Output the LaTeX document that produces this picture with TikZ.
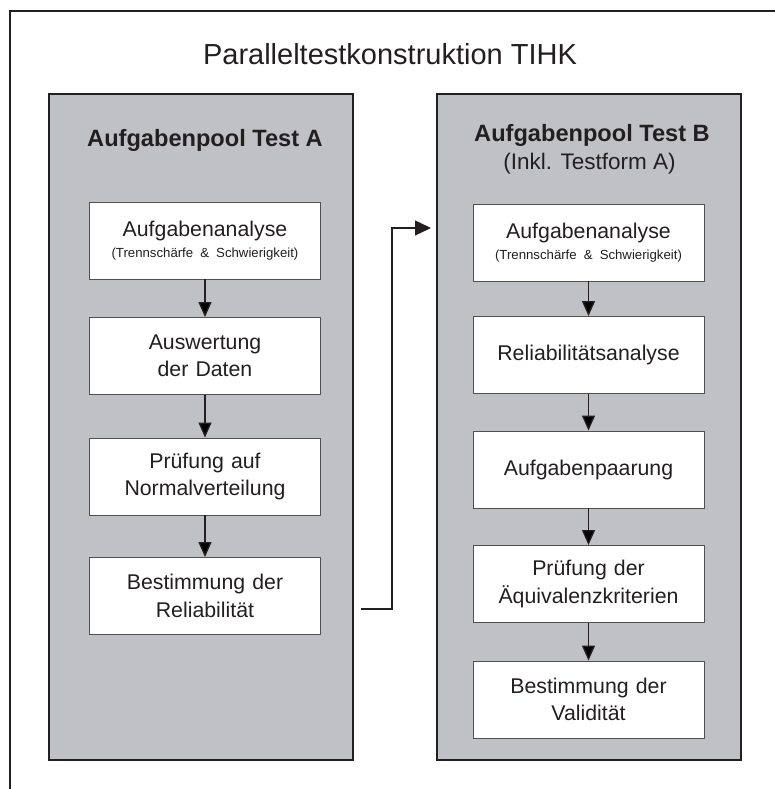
\documentclass[tikz,border=0pt]{standalone}
\usepackage{fontspec}
\setmainfont{Liberation Sans}
\usepackage{tikz}
\usetikzlibrary{arrows.meta, shapes}
\definecolor{poolgray}{RGB}{192,193,196}
\definecolor{ink}{RGB}{35,31,32}
\definecolor{boxline}{RGB}{80,80,80}
\newcommand{\detailfont}{\fontsize{13.2}{16}\selectfont}
\tikzstyle{arrow} = [-{Triangle[length=15pt,width=13pt]}, line width=1.3pt, draw=ink]
\tikzstyle{pool} = [draw=ink, fill=poolgray, line width=1.6pt, minimum width=304pt, minimum height=666pt, inner sep=0]
\tikzstyle{task} = [draw=boxline, fill=white, line width=0.9pt, text width=225pt, align=center, minimum width=231pt, minimum height=77pt, inner sep=0, font=\fontsize{21.3}{27.5}\selectfont, text=ink]
\tikzstyle{pooltitle} = [font=\fontsize{23.6}{28}\selectfont\bfseries, text=ink, anchor=base]
\begin{document}
\begin{tikzpicture}[x=1pt, y=1pt, auto, node distance=118pt]
        \useasboundingbox (0,0) rectangle (775,789);
        \clip (0,0) rectangle (775,789);
        \draw [line width=2pt, draw=ink] (10,-10) -- (10,778) -- (790,778);
        \node [anchor=base, font=\fontsize{29}{34}\selectfont, text=ink] (title) at (390,724) {Paralleltestkonstruktion TIHK};

        \node [pool] (poolA) at (201,362) {};
        \node [pool] (poolB) at (589,362) {};
        \node [pooltitle] (poolTitleA) at (205,642) {Aufgabenpool Test A};
        \node [pooltitle] (poolTitleB) at (592,647) {Aufgabenpool Test B};
        \node [anchor=base, font=\fontsize{22.5}{27}\selectfont, text=ink] (poolNoteB) at (589.5,619) {(Inkl. Testform A)};

        \node [task] (analyseA) at (205,548.5) {Aufgabenanalyse\\[-6pt]{\detailfont(Trennschärfe \& Schwierigkeit)}};
        \node [task, below of=analyseA, node distance=115.5pt] (auswertungA) {Auswertung\\der Daten};
        \node [task, below of=auswertungA, node distance=120.5pt] (normalA) {Prüfung auf\\Normalverteilung};
        \node [task, below of=normalA, node distance=119.5pt] (reliabA) {Bestimmung der\\Reliabilität};

        \node [task] (analyseB) at (588.5,546.5) {Aufgabenanalyse\\[-6pt]{\detailfont(Trennschärfe \& Schwierigkeit)}};
        \node [task, below of=analyseB, node distance=112.5pt] (reliabB) {Reliabilitätsanalyse};
        \node [task, below of=reliabB, node distance=114.5pt] (paarungB) {Aufgabenpaarung};
        \node [task, below of=paarungB, node distance=114.5pt] (aequivB) {Prüfung der\\Äquivalenzkriterien};
        \node [task, below of=aequivB, node distance=115.5pt] (validB) {Bestimmung der\\Validität};

        \coordinate (linkStart) at (361,180);
        \coordinate (linkEnd) at (431,561);

        \path [arrow] (analyseA) edge (auswertungA);
        \path [arrow] (auswertungA) edge (normalA);
        \path [arrow] (normalA) edge (reliabA);
        \path [arrow] (analyseB) edge (reliabB);
        \path [arrow] (reliabB) edge (paarungB);
        \path [arrow] (paarungB) edge (aequivB);
        \path [arrow] (aequivB) edge (validB);
        \draw [arrow, -{Triangle[length=16pt,width=15pt]}] (linkStart) -- ++(31,0) |- (linkEnd);
    \end{tikzpicture}
\end{document}
